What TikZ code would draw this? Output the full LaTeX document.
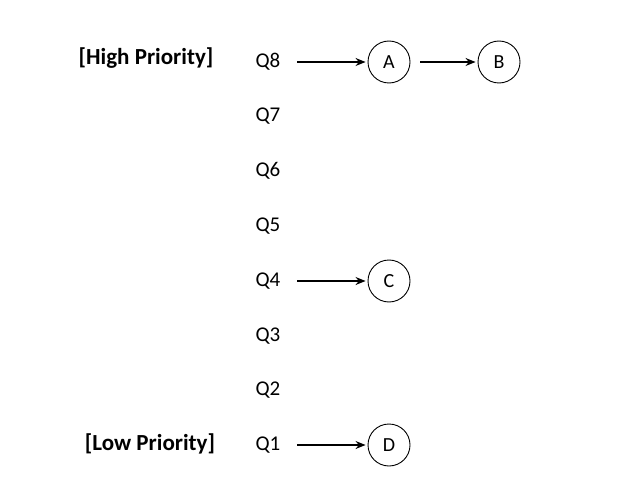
\documentclass[tikz,border=0pt]{standalone}
\usepackage{fontspec}
\setmainfont{Carlito}
\usetikzlibrary{arrows.meta}
\begin{document}
\begin{tikzpicture}[x=1pt,y=-1pt,
  qlabel/.style={font=\fontsize{21}{24}\selectfont, inner sep=0pt},
  prio/.style={font=\fontsize{23}{26}\selectfont\bfseries, inner sep=0pt},
  item/.style={circle, draw, line width=0.9pt, minimum size=42pt, inner sep=0pt, font=\fontsize{20}{23}\selectfont},
  link/.style={-{Stealth[length=10pt,width=8pt]}, line width=1.3pt, shorten >=2pt}]
\useasboundingbox (0,0) rectangle (632,484);
\node[prio] (high) at (146,58) {[High Priority]};
\node[prio] (low) at (150,444) {[Low Priority]};
\node[qlabel] (q8) at (268,62) {Q8};
\node[qlabel] (q7) at (268,116) {Q7};
\node[qlabel] (q6) at (268,171) {Q6};
\node[qlabel] (q5) at (268,226) {Q5};
\node[qlabel] (q4) at (268,281) {Q4};
\node[qlabel] (q3) at (268,336) {Q3};
\node[qlabel] (q2) at (268,390) {Q2};
\node[qlabel] (q1) at (268,445) {Q1};
\node[item] (a) at (389,62) {A};
\node[item] (b) at (499,62) {B};
\node[item] (c) at (389,281) {C};
\node[item] (d) at (389,445) {D};
\draw[link] (297,62) -- (a.west);
\draw[link] ([xshift=10pt]a.east) -- (b.west);
\draw[link] (297,281) -- (c.west);
\draw[link] (297,445) -- (d.west);
\end{tikzpicture}
\end{document}
